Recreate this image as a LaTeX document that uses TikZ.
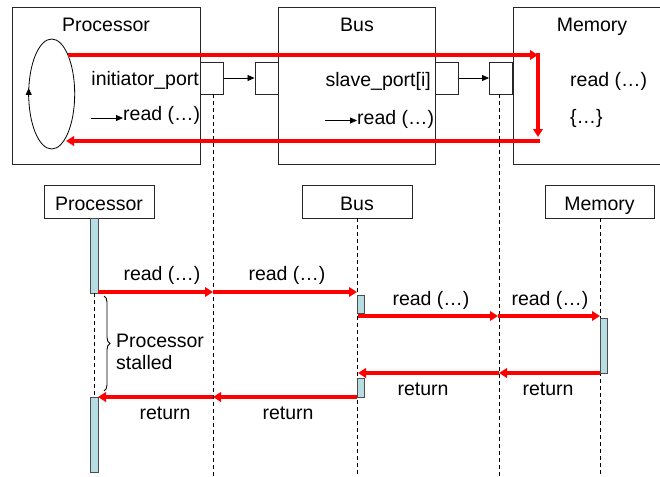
\documentclass[tikz,border=0pt]{standalone}
\usepackage{fontspec}
\setmainfont{Liberation Sans}
\usetikzlibrary{arrows.meta,shapes.geometric,decorations.pathreplacing}

\definecolor{barfill}{RGB}{182,221,226}
\definecolor{msgred}{RGB}{255,0,0}

\begin{document}
\begin{tikzpicture}[x=1pt,y=-1pt,
  every node/.style={font=\fontsize{19.5}{23}\selectfont, inner sep=0pt},
  box/.style={draw=black!85, line width=0.9pt, rectangle},
  port/.style={box, minimum width=23pt, minimum height=32pt},
  header/.style={box, minimum width=110pt, minimum height=33pt, text height=17pt, text depth=0pt},
  actbar/.style={draw=black!70, fill=barfill, line width=0.8pt, minimum width=7.5pt},
  lifeline/.style={draw, line width=0.8pt, dash pattern=on 4pt off 3pt},
  msg/.style={draw=msgred, line width=3.1pt, -{Triangle[length=8pt,width=9.5pt]}},
  call/.style={draw, line width=0.8pt, -{Triangle[length=7pt,width=6pt]}},
  lbl/.style={anchor=base},
  lbll/.style={anchor=base west}
]
\clip (0,0) rectangle (660,476);

% ---------- structural view ----------
\node[box, minimum width=188pt, minimum height=157pt] (procbox) at (106,85.5) {};
\node[box, minimum width=157pt, minimum height=157pt] (busbox) at (356.5,85.5) {};
\node[box, minimum width=170pt, minimum height=157pt, anchor=west] (membox) at (513,85.5) {};

\node[lbl] (proctitle) at (106,32) {Processor};
\node[lbl] (bustitle) at (357,32) {Bus};
\node[lbl] (memtitle) at (592,32) {Memory};

\node[port] (iport) at (212,78) {};
\node[port] (bportin) at (266.5,78) {};
\node[port] (bportout) at (447,78) {};
\node[port] (mport) at (501,78) {};
\draw[call] (iport.east) -- (bportin.west);
\draw[call] (bportout.east) -- (mport.west);

\node[anchor=base east] (iname) at (199,86) {initiator\_port};
\node[lbll] (pread) at (123,121) {read (\dots)};
\coordinate (pcall) at (91,118);
\draw[call] (pcall) -- (pcall -| pread.west);

\node[anchor=base east] (sname) at (431,87) {slave\_port[i]};
\node[lbll] (bread) at (357,124) {read (\dots)};
\coordinate (bcall) at (325,120.5);
\draw[call] (bcall) -- (bcall -| bread.west);

\node[lbll] (mread) at (570,87) {read (\dots)};
\node[lbll] (mbody) at (570,123) {\{\dots\}};

% processor thread loop
\node[draw, ellipse, line width=0.8pt, minimum width=46pt, minimum height=110pt] (loop) at (51.7,94) {};
\coordinate (loopup1) at (28.7,97);
\coordinate (loopup2) at (28.7,88);
\draw[call] (loopup1) -- (loopup2);

% call path through the ports
\coordinate (loopout) at (68,55);
\coordinate (memturn) at (538,55);
\coordinate (memdown) at (538,137);
\coordinate (memback) at (538,141);
\coordinate (loopin) at (66,141);
\draw[msg] (loopout) -- (memturn);
\draw[msg, shorten <=-1.5pt] (memturn) -- (memdown);
\draw[msg, shorten <=-1.5pt] (memback) -- (loopin);

% ---------- sequence view ----------
\node[header] (hproc) at (99,201.5) {Processor};
\node[header] (hbus) at (357,201.5) {Bus};
\node[header, minimum width=109pt] (hmem) at (599.5,201.5) {Memory};

% lifelines
\coordinate (iportend) at (213,476);
\coordinate (mportend) at (499,476);
\coordinate (busend) at (357,476);
\coordinate (memend) at (600,476);
\draw[lifeline] (iport.south -| 213,0) -- (iportend);
\draw[lifeline] (mport.south -| 499,0) -- (mportend);
\draw[lifeline] (hbus.south) -- (busend);
\draw[lifeline] (hmem.south -| 600,0) -- (memend);

% activation bars
\node[actbar, minimum height=75pt] (pbar1) at (94.5,255.5) {};
\node[actbar, minimum height=75pt] (pbar2) at (94.5,434.5) {};
\draw[lifeline] (pbar1.south) -- (pbar2.north);
\node[actbar, minimum height=18pt] (bbar1) at (361,304) {};
\node[actbar, minimum height=19pt] (bbar2) at (361,387.5) {};
\node[actbar, minimum height=55pt] (mbar) at (604,345.5) {};

% messages
\coordinate (c1) at (98,292);
\coordinate (c2) at (213,292);
\coordinate (c3) at (357,292);
\coordinate (d1) at (358,316);
\coordinate (d2) at (498,316);
\coordinate (d3) at (600,316);
\coordinate (r1) at (600,373);
\coordinate (r2) at (499,373);
\coordinate (r3) at (358,373);
\coordinate (s1) at (357,397);
\coordinate (s2) at (213,397);
\coordinate (s3) at (98,397);
\draw[msg] (c1) -- (c2);
\draw[msg] (c2) -- (c3);
\draw[msg] (d1) -- (d2);
\draw[msg] (d2) -- (d3);
\draw[msg] (r1) -- (r2);
\draw[msg] (r2) -- (r3);
\draw[msg] (s1) -- (s2);
\draw[msg] (s2) -- (s3);

\node[lbl] (l1) at (162,280) {read (\dots)};
\node[lbl] (l2) at (287,280) {read (\dots)};
\node[lbl] (l3) at (431,305) {read (\dots)};
\node[lbl] (l4) at (550,305) {read (\dots)};
\node[lbl] (l5) at (423,395) {return};
\node[lbl] (l6) at (548,395) {return};
\node[lbl] (l7) at (165,419) {return};
\node[lbl] (l8) at (288,419) {return};

% stall annotation
\coordinate (brtop) at (104,296);
\coordinate (brbot) at (104,391);
\draw[line width=0.9pt, decorate, decoration={brace, amplitude=6pt}] (brtop) -- (brbot);
\node[lbll] (stall1) at (116,347) {Processor};
\node[lbll] (stall2) at (116,369) {stalled};
\end{tikzpicture}
\end{document}
